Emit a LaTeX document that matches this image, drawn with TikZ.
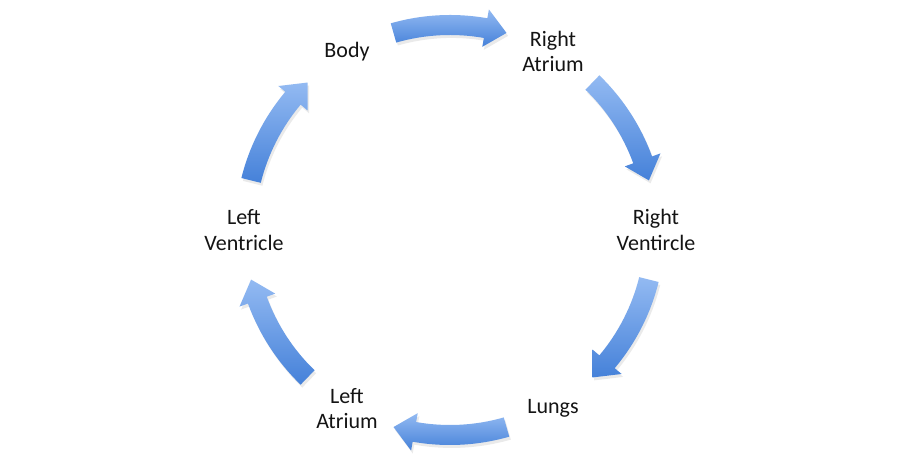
\documentclass[tikz,border=0pt]{standalone}
\usepackage{fontspec}
\setmainfont{Carlito}
\usetikzlibrary{shadows}
\definecolor{ink}{HTML}{141414}
\definecolor{flowlight}{HTML}{93BAF2}
\definecolor{flowdark}{HTML}{4581D9}
\newcommand{\StageF}{\fontsize{16.5}{19}\selectfont}
% curved block arrow on the loop, #1 = middle angle
\newcommand{\looparrow}[1]{%
  \shade[top color=flowlight, bottom color=flowdark,
         drop shadow={opacity=0.16, shadow xshift=1.2pt, shadow yshift=-2.2pt}]
    (#1+16:215) arc[start angle=#1+16, end angle=#1-10, radius=215]
    -- (#1-10:224) -- (#1-16:205) -- (#1-10:186) -- (#1-10:195)
    arc[start angle=#1-10, end angle=#1+16, radius=195] -- cycle;
}
\tikzset{stage/.style={font=\StageF, text=ink, align=center}}

\begin{document}
\begin{tikzpicture}[x=0.75pt,y=0.75pt]
\useasboundingbox[fill=white] (0,0) rectangle (900,460);
\begin{scope}[shift={(450,230)}]
\looparrow{90}
\looparrow{30}
\looparrow{-30}
\looparrow{-90}
\looparrow{-150}
\looparrow{150}
\node[stage] (body) at (120:206) {Body};
\node[stage] (ratrium) at (60:206) {Right\\Atrium};
\node[stage] (rventricle) at (0:206) {Right\\Ventircle};
\node[stage] (lungs) at (-60:206) {Lungs};
\node[stage] (latrium) at (-120:206) {Left\\Atrium};
\node[stage] (lventricle) at (180:206) {Left\\Ventricle};
\end{scope}
\end{tikzpicture}
\end{document}
